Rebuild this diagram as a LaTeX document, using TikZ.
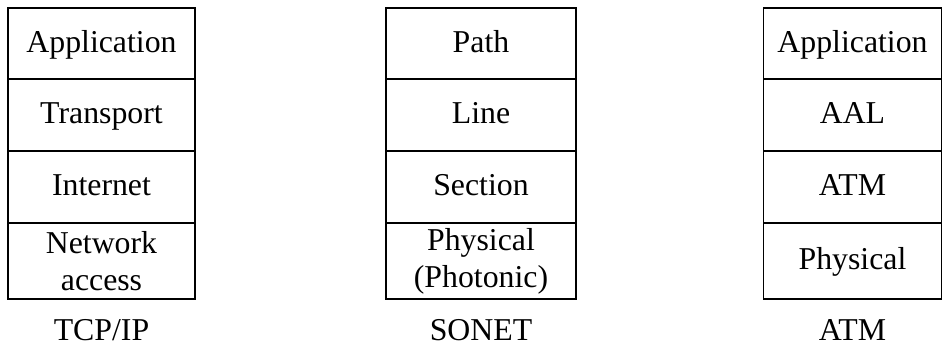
\documentclass[tikz,border=0pt]{standalone}
\usepackage{fontspec}
\setmainfont{Liberation Serif}
\begin{document}
\begin{tikzpicture}[x=1pt,y=1pt,
  every node/.style={font=\fontsize{31.8}{37}\selectfont, inner sep=0pt, outer sep=0pt},
  box/.style={draw=black, line width=1.8pt, align=center},
  oneline/.style={text height=21pt, text depth=3pt},
  layer/.style={box, oneline},
  caption/.style={text height=21pt, text depth=0pt}]
\useasboundingbox (0,0) rectangle (943,348);

% TCP/IP stack
\node[layer, minimum width=187pt, minimum height=71pt] (t1) at (101.5,304.5) {Application};
\node[layer, minimum width=187pt, minimum height=72pt] (t2) at (101.5,233) {Transport};
\node[layer, minimum width=187pt, minimum height=72pt] (t3) at (101.5,161) {Internet};
\node[box, minimum width=187pt, minimum height=76pt] (t4) at (101.5,87) {Network\\access};
\node[caption] (tl) at (101.5,18) {TCP/IP};

% SONET stack
\node[layer, minimum width=190pt, minimum height=71pt] (s1) at (481,304.5) {Path};
\node[layer, minimum width=190pt, minimum height=72pt] (s2) at (481,233) {Line};
\node[layer, minimum width=190pt, minimum height=72pt] (s3) at (481,161) {Section};
\node[box, minimum width=190pt, minimum height=76pt] (s4) at (481,87) {Physical\\(Photonic)};
\node[caption] (sl) at (481,18) {SONET};

% ATM stack
\node[layer, minimum width=178pt, minimum height=71pt] (a1) at (852.5,304.5) {Application};
\node[layer, minimum width=178pt, minimum height=72pt] (a2) at (852.5,233) {AAL};
\node[layer, minimum width=178pt, minimum height=72pt] (a3) at (852.5,161) {ATM};
\node[layer, minimum width=178pt, minimum height=76pt] (a4) at (852.5,87) {Physical};
\node[caption] (al) at (852.5,18) {ATM};
\end{tikzpicture}
\end{document}
